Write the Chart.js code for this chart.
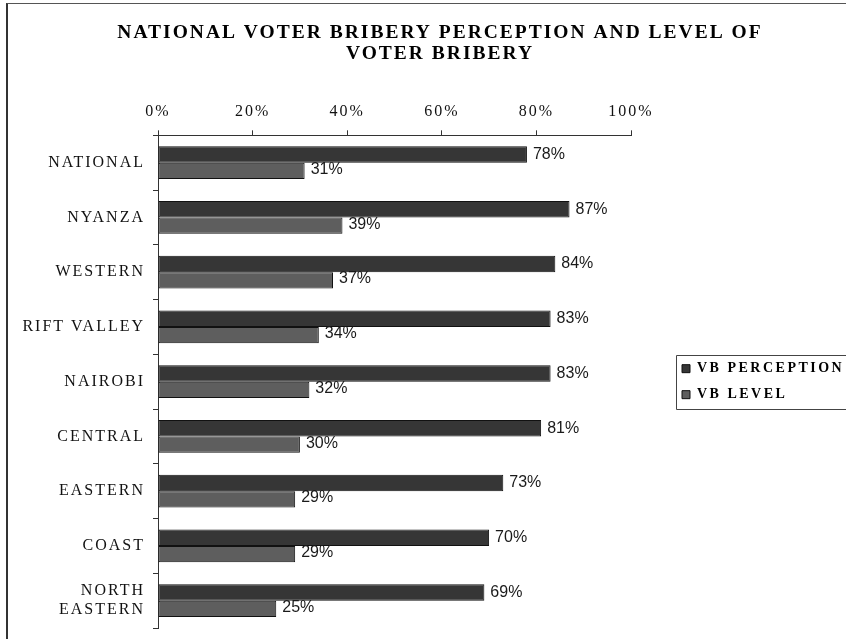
<!DOCTYPE html>
<html>
<head>
<meta charset="utf-8">
<script src="https://cdn.jsdelivr.net/npm/chart.js@4.4.1/dist/chart.umd.min.js"></script>
<style>
  html, body { margin: 0; padding: 0; background: #fff; overflow: hidden; }
  #wrap { position: relative; width: 846px; height: 639px; }
  #frame { position: absolute; left: 6px; top: 3px; width: 900px; height: 700px;
           border-left: 2px solid #333; border-top: 1px solid #555; box-sizing: border-box; }
  canvas { position: absolute; left: 0; top: 0; }
</style>
</head>
<body>
<div id="wrap">
  <div id="frame"></div>
  <canvas id="c" width="846" height="639"></canvas>
</div>
<script>
const titleLines = ['NATIONAL VOTER BRIBERY PERCEPTION AND LEVEL OF', 'VOTER BRIBERY'];
const categories = ['NATIONAL', 'NYANZA', 'WESTERN', 'RIFT VALLEY', 'NAIROBI', 'CENTRAL', 'EASTERN', 'COAST', ['NORTH', 'EASTERN']];
const seriesNames = ['VB PERCEPTION', 'VB LEVEL'];
const vbPerception = [78, 87, 84, 83, 83, 81, 73, 70, 69];
const vbLevel = [31, 39, 37, 34, 32, 30, 29, 29, 25];
const xMin = 0, xMax = 100, xStep = 20;

const SERIF = "'Liberation Serif', 'Times New Roman', serif";
const SANS = "'Liberation Sans', Arial, sans-serif";
const SPACING = '2px';
const LEGEND_SPACING = '2.5px';
const LEG_PAD = 12;
const LEG_FONT = 14;

const spacingPlugin = {
  id: 'spacing',
  beforeUpdate(chart) { chart.ctx.letterSpacing = SPACING; },
  beforeLayout(chart) { chart.ctx.letterSpacing = SPACING; },
  beforeRender(chart) { chart.ctx.letterSpacing = SPACING; },
  beforeDraw(chart) { chart.ctx.letterSpacing = SPACING; }
};

const placePlugin = {
  id: 'place',
  afterInit(chart) {
    const lg = chart.legend;
    const origFit = lg.fit.bind(lg);
    lg.fit = function () {
      const prev = this.ctx.letterSpacing;
      this.ctx.letterSpacing = LEGEND_SPACING;
      origFit();
      this.ctx.letterSpacing = prev;
      this.width = 215;
    };
    const origDraw = lg.draw.bind(lg);
    lg.draw = function () {
      const prev = this.ctx.letterSpacing;
      this.ctx.letterSpacing = LEGEND_SPACING;
      origDraw();
      this.ctx.letterSpacing = prev;
    };
  },
  afterLayout(chart) {
    const lg = chart.legend;
    lg.left = 670;
    lg.right = 846;
    const t = chart.titleBlock;
    t.left = 34;
    t.right = 846;
  },
  afterDraw(chart) {
    const lg = chart.legend;
    const ctx = chart.ctx;
    const colH = 2 * (LEG_FONT + LEG_PAD);
    const y0 = (lg.top + LEG_PAD + lg.bottom - colH) / 2;
    ctx.save();
    ctx.strokeStyle = '#444';
    ctx.lineWidth = 1;
    ctx.beginPath();
    const x = Math.round(lg.left + LEG_PAD - 6) + 0.5;
    const top = Math.round(y0 - 7) + 0.5;
    const bot = Math.round(y0 + colH - LEG_PAD + 7) + 0.5;
    ctx.moveTo(860, top); ctx.lineTo(x, top); ctx.lineTo(x, bot); ctx.lineTo(860, bot);
    ctx.stroke();
    ctx.restore();
  }
};

const valueLabelPlugin = {
  id: 'valueLabels',
  afterDatasetsDraw(chart) {
    const ctx = chart.ctx;
    ctx.save();
    ctx.letterSpacing = '0px';
    ctx.font = '16px ' + SANS;
    ctx.fillStyle = '#1a1a1a';
    ctx.textAlign = 'left';
    ctx.textBaseline = 'middle';
    chart.data.datasets.forEach((ds, di) => {
      const meta = chart.getDatasetMeta(di);
      meta.data.forEach((bar, i) => {
        ctx.fillText(ds.data[i] + '%', bar.x + 6, bar.y - (di === 1 ? 1.5 : 0));
      });
    });
    ctx.restore();
  }
};

new Chart(document.getElementById('c'), {
  type: 'bar',
  data: {
    labels: categories,
    datasets: [
      { label: seriesNames[0], data: vbPerception, backgroundColor: '#363636', borderColor: '#111', borderWidth: 1, borderSkipped: false },
      { label: seriesNames[1], data: vbLevel, backgroundColor: '#5e5e5e', borderColor: '#111', borderWidth: 1, borderSkipped: false }
    ]
  },
  options: {
    indexAxis: 'y',
    responsive: false,
    animation: false,
    devicePixelRatio: 1,
    layout: { padding: { left: 0, right: 0, top: 0, bottom: 11 } },
    datasets: { bar: { categoryPercentage: 0.6, barPercentage: 1.0 } },
    scales: {
      x: {
        position: 'top',
        min: xMin, max: xMax,
        ticks: { stepSize: xStep, callback: v => v + '%', color: '#111', padding: 9,
                 font: { family: SERIF, size: 16 } },
        grid: { drawOnChartArea: false, tickLength: 5, color: '#333' },
        border: { color: '#333' }
      },
      y: {
        ticks: { color: '#111', padding: 8, font: { family: SERIF, size: 16 } },
        grid: { drawOnChartArea: false, tickLength: 5, color: '#333' },
        border: { color: '#333' },
        afterFit(scale) { scale.width = 158; scale.paddingTop = 0; scale.paddingBottom = 0; }
      }
    },
    plugins: {
      title: {
        display: true,
        text: titleLines,
        color: '#000',
        font: { family: SERIF, size: 19.5, weight: 'bold', lineHeight: 1.08 },
        padding: { top: 22, bottom: 29 }
      },
      legend: {
        position: 'right',
        fullSize: false,
        labels: {
          color: '#000',
          boxWidth: 8, boxHeight: 8,
          padding: LEG_PAD,
          font: { family: SERIF, size: LEG_FONT, weight: 'bold' }
        }
      },
      tooltip: { enabled: false }
    }
  },
  plugins: [spacingPlugin, placePlugin, valueLabelPlugin]
});
</script>
</body>
</html>
